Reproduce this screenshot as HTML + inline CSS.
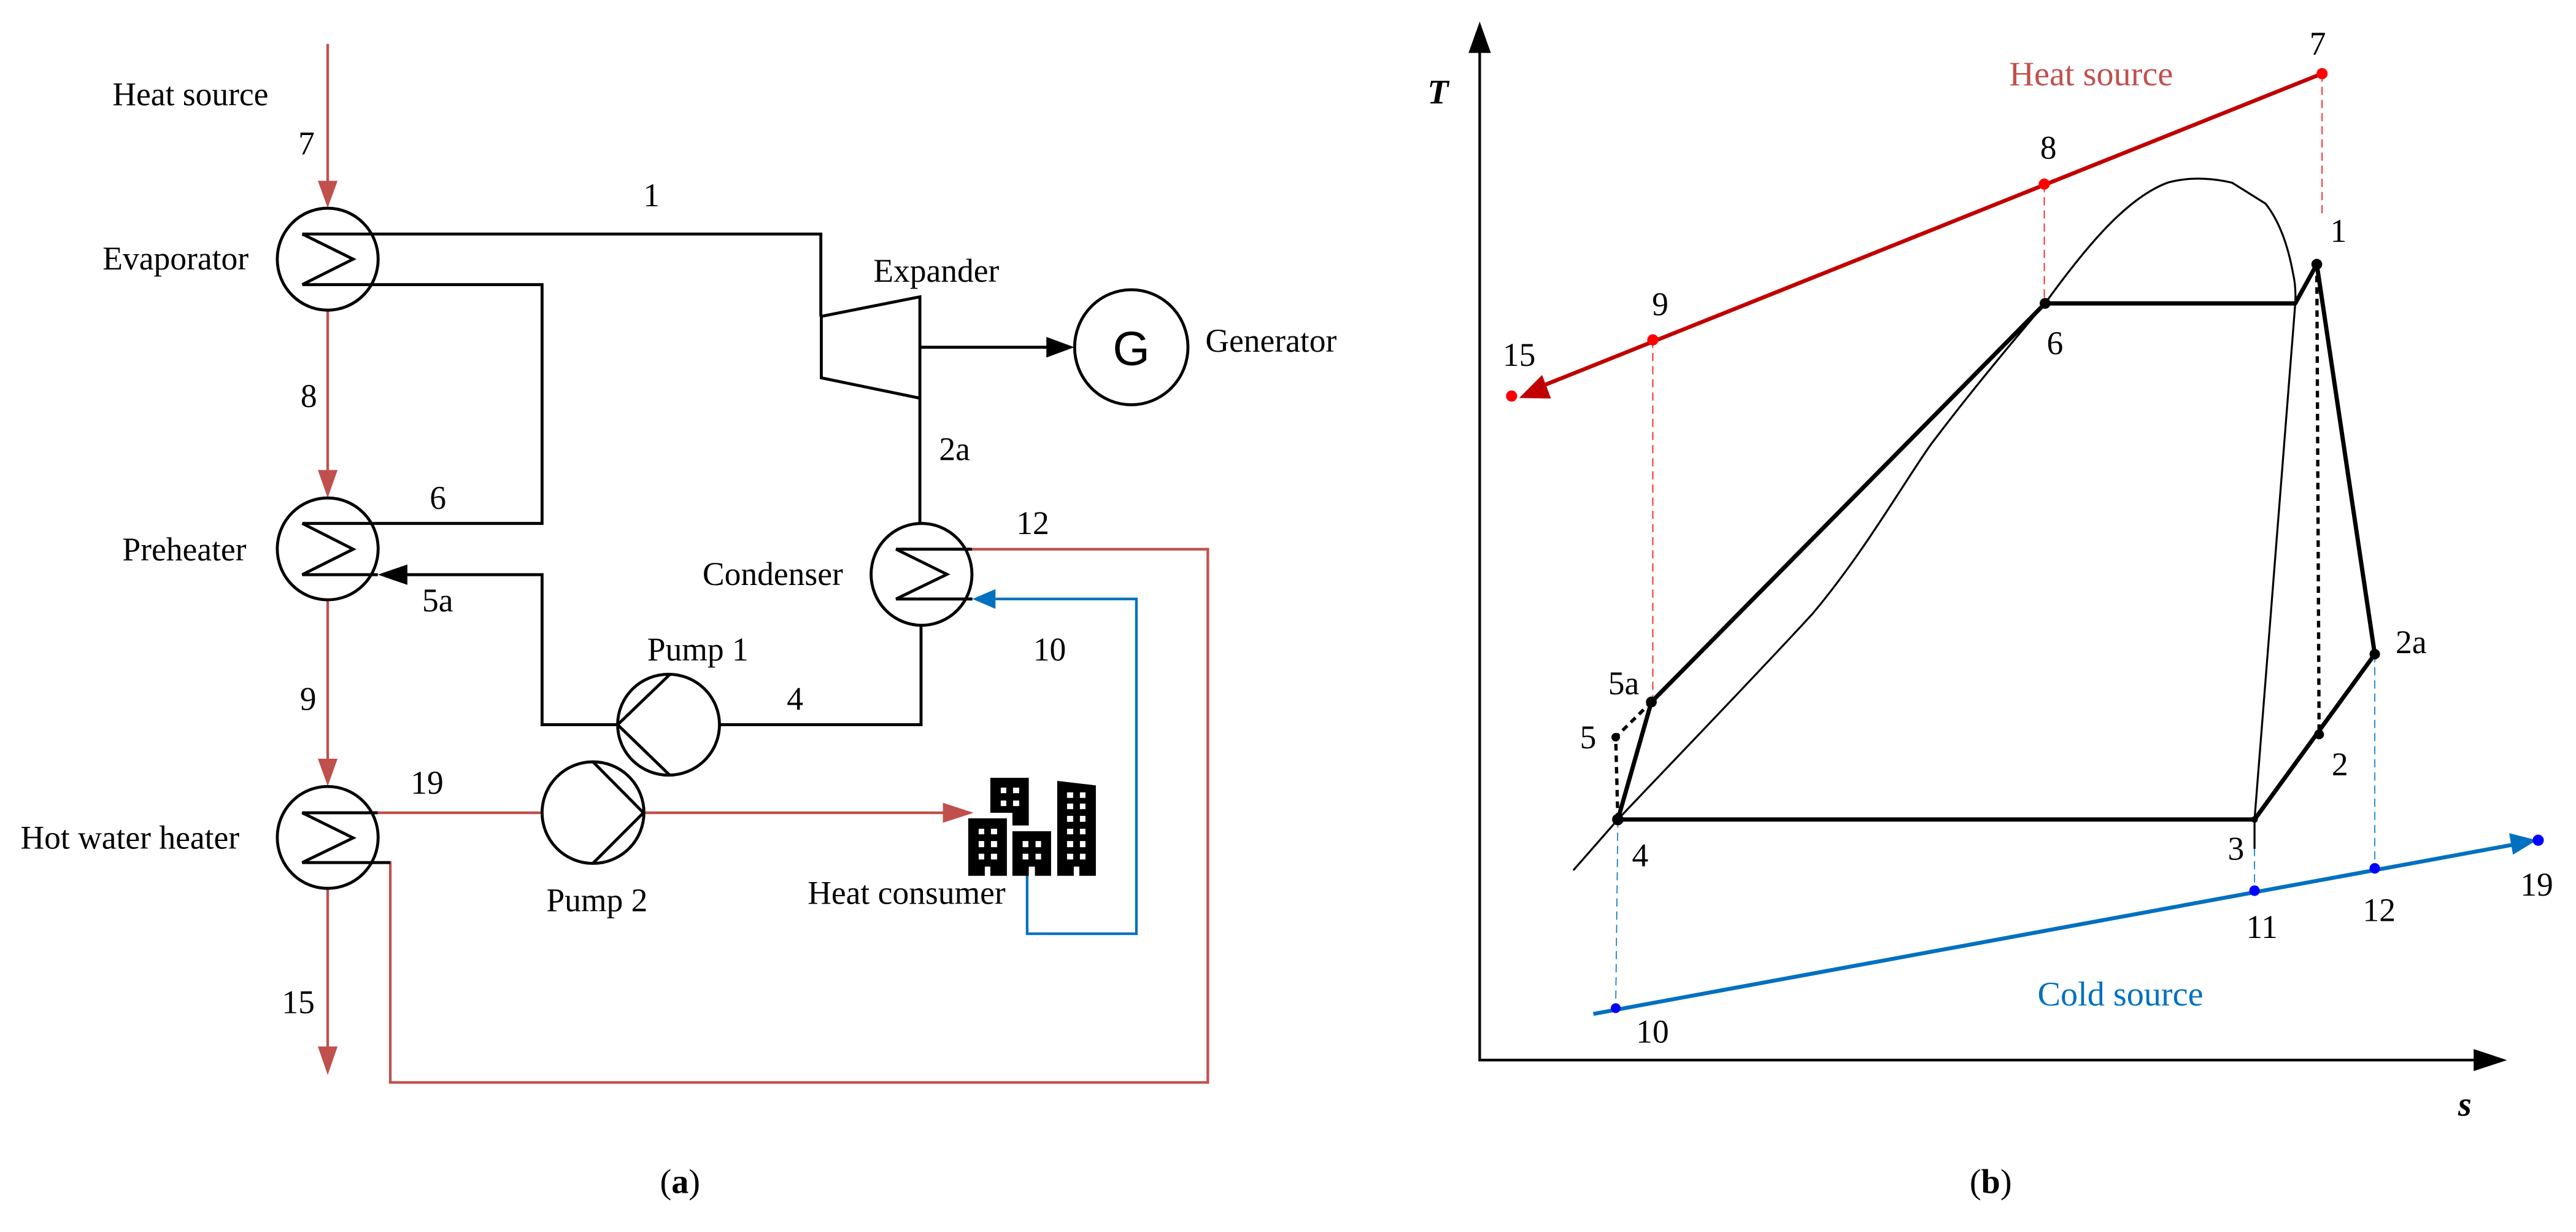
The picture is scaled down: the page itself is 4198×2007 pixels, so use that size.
<!DOCTYPE html>
<html><head><meta charset="utf-8"><style>
html,body{margin:0;padding:0;background:#fff;}
svg{display:block;}
text{font-family:"Liberation Serif",serif;font-size:20px;fill:#000;}
</style></head><body>
<svg width="4198" height="2007" viewBox="0 0 1568.2 749.7" xmlns="http://www.w3.org/2000/svg">
<rect x="0" y="0" width="1568.2" height="749.7" fill="#fff"/>
<!-- ===== LEFT PANEL ===== -->
<g fill="none" stroke-linejoin="miter">
<g stroke="#c0504d" stroke-width="1.6">
<line x1="199.5" y1="26.7" x2="199.5" y2="112"/>
<line x1="199.5" y1="188.7" x2="199.5" y2="288"/>
<line x1="199.5" y1="364.5" x2="199.5" y2="462"/>
<line x1="199.5" y1="540.3" x2="199.5" y2="637"/>
<polyline points="230,494.6 330,494.6"/>
<polyline points="391.7,494.6 576,494.6"/>
<polyline points="215,524.9 237.6,524.9 237.6,658.7 735.3,658.7 735.3,334.2 591.7,334.2"/>
</g>
<g fill="#c0504d" stroke="none">
<polygon points="193.5,110 205.5,110 199.5,126.5"/>
<polygon points="193.5,286 205.5,286 199.5,303"/>
<polygon points="193.5,461.7 205.5,461.7 199.5,478.4"/>
<polygon points="193.5,636.8 205.5,636.8 199.5,654.2"/>
<polygon points="574,488.5 574,500.7 592.7,494.6"/>
</g>
<polyline points="625.3,522.5 625.3,568.2 691.8,568.2 691.8,364.5 606,364.5" stroke="#0070c0" stroke-width="1.6"/>
<polygon points="606,358.5 606,370.5 592,364.5" fill="#0070c0"/>
<g stroke="#000" stroke-width="1.8">
<polyline points="184,142.4 499.7,142.4 499.7,192.5"/>
<polyline points="184,173.2 330,173.2 330,318.5 184,318.5"/>
<polyline points="376,441 330,441 330,349.7 247,349.7"/>
<polyline points="438,441 560.7,441 560.7,380.5"/>
<line x1="560" y1="242.3" x2="560" y2="318.5"/>
<line x1="560" y1="211.3" x2="638" y2="211.3"/>
</g>
<polygon points="248,343.5 248,355.9 230,349.7" fill="#000"/>
<polygon points="637,205 637,217.6 654,211.3" fill="#000"/>
<polygon points="500,192.5 560,180.6 560,242.3 500,229.9" stroke="#000" stroke-width="1.8" fill="#fff"/>
<g stroke="#000" stroke-width="1.8" fill="none">
<ellipse cx="199.5" cy="157.7" rx="30.7" ry="31"/>
<polyline points="184,142.4 215,157.7 184,173.2"/>
<ellipse cx="199.5" cy="334" rx="30.7" ry="31"/>
<polyline points="184,318.5 215,334.2 184,349.7 230,349.7"/>
<ellipse cx="561" cy="349.5" rx="30.7" ry="31"/>
<polyline points="591.7,334.2 545.5,334.2 576.5,349.5 545.5,364.5 592,364.5"/>
<ellipse cx="199.5" cy="509.6" rx="30.7" ry="31"/>
<polyline points="230,494.6 184,494.6 215,509.9 184,524.9 237.6,524.9"/>
<ellipse cx="407" cy="441" rx="31" ry="30.7"/>
<polyline points="407.7,410.5 376,441 407.7,471.7"/>
<ellipse cx="361" cy="494.5" rx="31" ry="30.9"/>
<polyline points="361,463.6 391.7,494.6 361,525.3"/>
<ellipse cx="688.7" cy="211.3" rx="34.5" ry="35"/>
</g>
</g>
<text x="688.7" y="222" text-anchor="middle" style="font-family:'Liberation Sans',sans-serif;font-size:29px;">G</text>
<g transform="translate(560.3,448.3) scale(0.12452)">
<path d="M342,201 H530 V434 H450 V372 H342 Z" fill="#000"/>
<path d="M234,399 H423 V680 H342 V635 H315 V680 H234 Z" fill="#000"/>
<path d="M450,462 H639 V680 H560 V635 H530 V680 H450 Z" fill="#000"/>
<path d="M669,216 L858,238 V680 H777 V635 H750 V680 H669 Z" fill="#000"/>
<g fill="#fff">
<rect x="393" y="249" width="27" height="27"/><rect x="453" y="249" width="30" height="27"/>
<rect x="393" y="312" width="27" height="27"/><rect x="453" y="312" width="30" height="27"/>
<rect x="285" y="450" width="27" height="27"/><rect x="345" y="450" width="30" height="27"/>
<rect x="285" y="510" width="27" height="30"/><rect x="345" y="510" width="30" height="30"/>
<rect x="285" y="572" width="27" height="28"/><rect x="345" y="572" width="30" height="28"/>
<rect x="500" y="510" width="28" height="30"/><rect x="563" y="510" width="27" height="30"/>
<rect x="500" y="572" width="28" height="28"/><rect x="563" y="572" width="27" height="28"/>
<rect x="717" y="272" width="30" height="27"/><rect x="780" y="272" width="27" height="27"/>
<rect x="717" y="327" width="30" height="27"/><rect x="780" y="327" width="27" height="27"/>
<rect x="717" y="387" width="30" height="29"/><rect x="780" y="387" width="27" height="29"/>
<rect x="717" y="450" width="30" height="27"/><rect x="780" y="450" width="27" height="27"/>
<rect x="717" y="510" width="30" height="30"/><rect x="780" y="510" width="27" height="30"/>
<rect x="717" y="572" width="30" height="28"/><rect x="780" y="572" width="27" height="28"/>
</g>
</g>
<text x="68.5" y="64">Heat source</text>
<text x="186.6" y="94" text-anchor="middle">7</text>
<text x="396.6" y="125.5" text-anchor="middle">1</text>
<text x="531.7" y="171.5">Expander</text>
<text x="62.5" y="164">Evaporator</text>
<text x="733.8" y="214">Generator</text>
<text x="188" y="247.7" text-anchor="middle">8</text>
<text x="571.7" y="280">2a</text>
<text x="266.6" y="309.7" text-anchor="middle">6</text>
<text x="618.7" y="325">12</text>
<text x="74.5" y="341">Preheater</text>
<text x="427.7" y="356">Condenser</text>
<text x="257" y="372">5a</text>
<text x="394" y="402">Pump 1</text>
<text x="629" y="402">10</text>
<text x="484" y="432" text-anchor="middle">4</text>
<text x="187.6" y="432" text-anchor="middle">9</text>
<text x="250" y="483">19</text>
<text x="12.5" y="516.5">Hot water heater</text>
<text x="332.6" y="554.6">Pump 2</text>
<text x="491.7" y="550">Heat consumer</text>
<text x="171.6" y="616.6">15</text>
<text x="414" y="726" text-anchor="middle" style="font-size:21px;">(<tspan font-weight="bold">a</tspan>)</text>

<!-- ===== RIGHT PANEL ===== -->
<g fill="none">
<line x1="900.8" y1="30" x2="900.8" y2="645.1" stroke="#000" stroke-width="1.6"/>
<polygon points="894,32.2 907.6,32.2 900.8,13.1" fill="#000"/>
<line x1="900" y1="645.1" x2="1507" y2="645.1" stroke="#000" stroke-width="1.6"/>
<polygon points="1505.9,638.4 1505.9,651.8 1526.2,645.1" fill="#000"/>
<g stroke="#ff0000" stroke-width="0.6" stroke-dasharray="5,3">
<line x1="1413.6" y1="44.8" x2="1413.6" y2="130"/>
<line x1="1244.5" y1="112" x2="1244.5" y2="185"/>
<line x1="1006.2" y1="206.8" x2="1006.2" y2="428"/>
</g>
<g stroke="#0070c0" stroke-width="0.6" stroke-dasharray="5,3">
<line x1="984.9" y1="498.7" x2="983.6" y2="613.5"/>
<line x1="1372.5" y1="516" x2="1372.5" y2="542"/>
<line x1="1445.7" y1="398" x2="1445.7" y2="528.4"/>
</g>
<line x1="1413.6" y1="44.8" x2="936" y2="236" stroke="#c00000" stroke-width="2.4"/>
<polygon points="924.8,242.2 938.8,228.2 944.2,242.5" fill="#c00000"/>
<line x1="970" y1="617" x2="1530" y2="514" stroke="#0070c0" stroke-width="2.4"/>
<polygon points="1527.5,507 1529.8,520.1 1544.3,511.3" fill="#0070c0"/>
<path d="M957.8,529.6 L984.9,498.7 C1010,472 1070,410 1103.4,373.5 C1135,336 1160,292 1175.8,270 C1200,238 1225,208 1245,184.6 C1270,150 1295,120 1320,111 C1335,107 1350,109 1358.9,111.2 L1379.2,123.9 C1388,135 1393,150 1396,166.7 C1398,175 1397.3,184.6 1397.3,184.6 L1382.4,373.5 L1372.5,498.7 L1372.5,516.5" stroke="#000" stroke-width="1.2"/>
<polyline points="984.9,498.7 1005.3,427.2 1245,184.6 1397.3,184.6 1410.4,160.8 1445.7,398.1 1372.5,498.7 984.9,498.7" stroke="#000" stroke-width="2.6" stroke-linejoin="round"/>
<g stroke="#000" stroke-width="2" stroke-dasharray="4,3">
<line x1="1410.4" y1="160.8" x2="1411.8" y2="446.9"/>
<polyline points="984.9,498.7 983.6,448.6 1005.3,427.2"/>
</g>
</g>
<g fill="#ff0000">
<circle cx="1413.6" cy="44.8" r="3.4"/><circle cx="1244.5" cy="112" r="3.4"/>
<circle cx="1006.2" cy="206.8" r="3.4"/><circle cx="920.2" cy="241" r="3.4"/>
</g>
<g fill="#0000ff">
<circle cx="983.6" cy="613.5" r="3"/><circle cx="1372.5" cy="542" r="3.2"/>
<circle cx="1445.7" cy="528.4" r="3.2"/><circle cx="1545.2" cy="511.3" r="3.4"/>
</g>
<g fill="#000">
<circle cx="1245" cy="184.6" r="3.3"/><circle cx="1410.4" cy="160.8" r="3.3"/>
<circle cx="1445.7" cy="398.1" r="3.2"/><circle cx="1411.8" cy="446.9" r="3"/>
<circle cx="1005.3" cy="427.2" r="3.3"/><circle cx="983.6" cy="448.6" r="2.6"/>
<circle cx="984.9" cy="498.7" r="3.5"/><circle cx="1372.5" cy="498.7" r="2"/>
</g>
<text x="869" y="63" style="font-style:italic;font-weight:bold;font-size:21px;">T</text>
<text x="1223.2" y="52" style="fill:#c0504d;font-size:21px;">Heat source</text>
<text x="1411" y="33.3" text-anchor="middle">7</text>
<text x="1247" y="96.5" text-anchor="middle">8</text>
<text x="1010.7" y="191.8" text-anchor="middle">9</text>
<text x="924.8" y="222.7" text-anchor="middle">15</text>
<text x="1251" y="215.6" text-anchor="middle">6</text>
<text x="1423.6" y="147.2" text-anchor="middle">1</text>
<text x="1458.4" y="397.4">2a</text>
<text x="1424.5" y="471.7" text-anchor="middle">2</text>
<text x="979" y="422.4">5a</text>
<text x="966.8" y="455.3" text-anchor="middle">5</text>
<text x="998.5" y="527.2" text-anchor="middle">4</text>
<text x="1361.2" y="523.2" text-anchor="middle">3</text>
<text x="1544.3" y="545.1" text-anchor="middle">19</text>
<text x="1448.4" y="560.6" text-anchor="middle">12</text>
<text x="1377" y="570.8" text-anchor="middle">11</text>
<text x="1006" y="634.4" text-anchor="middle">10</text>
<text x="1240.4" y="611.8" style="fill:#0070c0;font-size:21px;">Cold source</text>
<text x="1500.5" y="679" text-anchor="middle" style="font-style:italic;font-weight:bold;font-size:21px;">s</text>
<text x="1211.9" y="726" text-anchor="middle" style="font-size:21px;">(<tspan font-weight="bold">b</tspan>)</text>
</svg>
</body></html>
